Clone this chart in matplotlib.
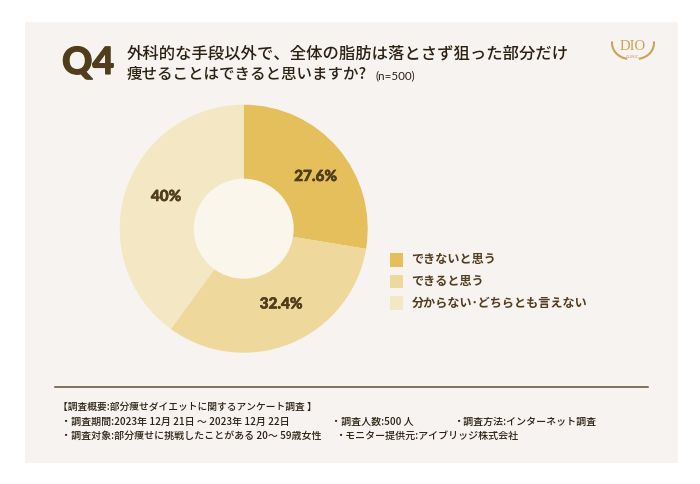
import matplotlib
matplotlib.use("Agg")
import matplotlib.pyplot as plt
import matplotlib.patheffects as pe
from matplotlib.patches import Rectangle, Circle, Arc

JP = ['Noto Sans CJK JP', 'DejaVu Sans']
W, H = 700, 484

categories = ['できないと思う', 'できると思う', '分からない･どちらとも言えない']
values = [27.6, 32.4, 40]
value_labels = ['27.6%', '32.4%', '40%']
colors = ['#E5BF5C', '#EFD89B', '#F4E7C3']
title_lines = ['外科的な手段以外で、全体の脂肪は落とさず狙った部分だけ', '痩せることはできると思いますか?']

ink = '#4F3D1C'
fig = plt.figure(figsize=(W / 100, H / 100), dpi=100, facecolor='white')
bg = fig.add_axes([0, 0, 1, 1], zorder=0)
bg.set_xlim(0, W)
bg.set_ylim(H, 0)
bg.axis('off')
bg.add_patch(Rectangle((25, 22), 653, 441, fc='#F7F3F0', ec='none'))

bg.text(62, 63, 'Q4', fontfamily='Lato', fontweight='black', fontsize=27, color=ink, va='center', ha='left',
        path_effects=[pe.withStroke(linewidth=0.8, foreground=ink)])
bg.text(127, 54.5, title_lines[0], family=JP, fontweight='medium', fontsize=11.75, color='#2A2113', va='center')
bg.text(127, 74.5, title_lines[1], family=JP, fontweight='medium', fontsize=11.2, color='#2A2113', va='center')
bg.text(376, 76, '(n=500)', fontfamily='Lato', fontsize=8.4, color='#2A2113', va='center')

# logo
gold = '#C9A35A'
bg.text(633, 47, 'DIO', fontfamily='Liberation Serif', fontsize=10.5, color=gold, ha='center', va='center')
bg.text(633, 57.5, 'CLINIC', fontfamily='Lato', fontsize=3.2, color=gold, ha='center', va='center')
bg.add_patch(Arc((630, 43), 36, 32, theta1=100, theta2=185, color=gold, lw=1.5))
bg.add_patch(Arc((636, 43), 36, 32, theta1=-5, theta2=80, color=gold, lw=1.5))

# donut
cx, cy, R, r = 243.7, 228.7, 124, 50
pie_ax = fig.add_axes([(cx - R) / W, 1 - (cy + R) / H, 2 * R / W, 2 * R / H], zorder=1)
pie_ax.pie(values, colors=colors, startangle=90, counterclock=False, radius=1,
           wedgeprops=dict(ec='none'))
pie_ax.set_xlim(-1, 1)
pie_ax.set_ylim(-1, 1)
pie_ax.add_patch(Circle((0, 0), r / R, fc='#FAF6EB', ec='none'))
pie_ax.axis('off')

# overlay for the value labels
top = fig.add_axes([0, 0, 1, 1], zorder=2)
top.set_xlim(0, W)
top.set_ylim(H, 0)
top.axis('off')
label_pos = [(315.5, 177), (281, 304.5), (166, 197)]
for (x, y), s in zip(label_pos, value_labels):
    top.text(x, y, s, fontfamily='Lato', fontweight='black', fontsize=11, color=ink, ha='center', va='center',
             path_effects=[pe.withStroke(linewidth=0.4, foreground=ink)])

# legend
for y, c, s in zip([260, 281.5, 303], colors, categories):
    bg.add_patch(Rectangle((389.5, y - 6.75), 13.5, 13.5, fc=c, ec='none'))
    bg.text(411.5, y, s, family=JP, fontweight='bold', fontsize=8.7, color=ink, va='center')

# footer
bg.plot([55, 648], [387, 387], color='#5E5130', lw=1.1)
fc = '#2A2113'
fs = 7.2
bg.text(58, 407, '【調査概要:部分痩せダイエットに関するアンケート調査 】', family=JP, fontsize=7.0, fontweight='medium', color=fc, va='center')
bg.text(61, 422, '・調査期間:2023年 12月 21日 ～ 2023年 12月 22日', family=JP, fontsize=fs, fontweight='medium', color=fc, va='center')
bg.text(331, 422, '・調査人数:500 人', family=JP, fontsize=fs, fontweight='medium', color=fc, va='center')
bg.text(453, 422, '・調査方法:インターネット調査', family=JP, fontsize=fs, fontweight='medium', color=fc, va='center')
bg.text(61, 436, '・調査対象:部分痩せに挑戦したことがある 20～ 59歳女性', family=JP, fontsize=fs, fontweight='medium', color=fc, va='center')
bg.text(335, 436, '・モニター提供元:アイブリッジ株式会社', family=JP, fontsize=fs, fontweight='medium', color=fc, va='center')

fig.savefig('out.png', dpi=100, facecolor='white')
